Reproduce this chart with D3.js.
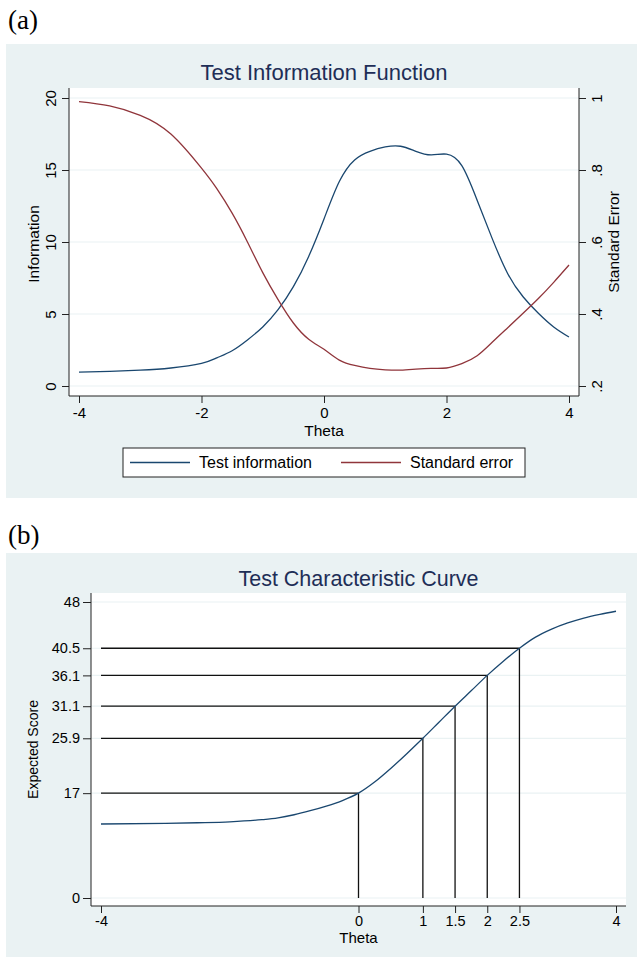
<!DOCTYPE html>
<html>
<head>
<meta charset="utf-8">
<script src="https://cdn.jsdelivr.net/npm/d3@7"></script>
<style>
  body { margin: 0; background: #fff; }
  svg { display: block; font-family: "Liberation Sans", Arial, sans-serif; }
</style>
</head>
<body>
<script>
// ---- data ----
const theta = [-4, -3.5, -3, -2.5, -2, -1.75, -1.5, -1.25, -1, -0.75, -0.5, -0.25, 0, 0.25, 0.5, 0.75,
               1, 1.25, 1.5, 1.75, 2, 2.25, 2.5, 2.75, 3, 3.25, 3.5, 3.75, 4];
const info  = [0.97, 1.02, 1.1, 1.25, 1.57, 1.95, 2.45, 3.2, 4.1, 5.3, 6.9, 9.0, 11.6, 14.2, 15.7, 16.3,
               16.6, 16.65, 16.3, 16.05, 16.1, 15.3, 12.9, 10.2, 7.8, 6.2, 5.05, 4.1, 3.4];
const stdErr = [0.99, 0.978, 0.952, 0.9, 0.805, 0.748, 0.68, 0.6, 0.515, 0.44, 0.375, 0.33, 0.302, 0.272, 0.257, 0.249,
                0.245, 0.244, 0.247, 0.249, 0.25, 0.262, 0.284, 0.322, 0.362, 0.402, 0.443, 0.488, 0.536];

const tccTheta = [-4, -3, -2.5, -2, -1.5, -1.25, -1, -0.75, -0.5, -0.25, 0, 0.25, 0.5, 0.75, 1,
                  1.25, 1.5, 1.75, 2, 2.25, 2.5, 2.75, 3, 3.25, 3.5, 3.75, 4];
const tccScore = [12.0, 12.1, 12.2, 12.35, 12.7, 13.0, 13.5, 14.15, 14.9, 15.8, 17.0, 18.8, 21.0, 23.4, 25.9,
                  28.5, 31.1, 33.6, 36.1, 38.4, 40.5, 42.3, 43.6, 44.6, 45.4, 46.0, 46.5];

const refTheta = [0, 1, 1.5, 2, 2.5];
const refScore = [17, 25.9, 31.1, 36.1, 40.5];

const infoTicks = [0, 5, 10, 15, 20];
const seTicks = [0.2, 0.4, 0.6, 0.8, 1];
const thetaTicksA = [-4, -2, 0, 2, 4];
const thetaTicksB = [-4, 0, 1, 1.5, 2, 2.5, 4];
const scoreTicks = [0, 17, 25.9, 31.1, 36.1, 40.5, 48];

const W = 637, H = 957;
const BG = "#eaf2f3", NAVY = "#1a476f", MAROON = "#90353b", TITLE = "#1e2e57";
const SANS = "'Liberation Sans', Arial, sans-serif";
const SERIF = "'Liberation Serif', 'Times New Roman', serif";

const svg = d3.select("body").append("svg").attr("width", W).attr("height", H);

// ---------- panel (a) ----------
svg.append("text").attr("x", 8).attr("y", 29)
  .style("font-family", SERIF).style("font-size", "27px").text("(a)");

svg.append("rect").attr("x", 6).attr("y", 44).attr("width", W - 6).attr("height", 454).attr("fill", BG);

const A = { l: 69, r: 579, t: 88, b: 396 };
svg.append("rect").attr("x", A.l).attr("y", A.t).attr("width", A.r - A.l).attr("height", A.b - A.t).attr("fill", "#fff");

const xA = d3.scaleLinear().domain([-4, 4]).range([79, 569]);
const yInfo = d3.scaleLinear().domain([0, 20]).range([386, 98]);
const ySE = d3.scaleLinear().domain([0.2, 1]).range([386, 98]);

const ga = svg.append("g");
ga.selectAll("line.grid").data(infoTicks).join("line")
  .attr("x1", A.l).attr("x2", A.r).attr("y1", d => yInfo(d)).attr("y2", d => yInfo(d))
  .attr("stroke", BG).attr("stroke-width", 1.2);

ga.append("text").attr("x", (A.l + A.r) / 2).attr("y", 80).attr("text-anchor", "middle")
  .attr("fill", TITLE).style("font-size", "22px").text("Test Information Function");

const lineInfo = d3.line().x((d, i) => xA(theta[i])).y(d => yInfo(d)).curve(d3.curveNatural);
const lineSE = d3.line().x((d, i) => xA(theta[i])).y(d => ySE(d)).curve(d3.curveNatural);
ga.append("path").attr("d", lineInfo(info)).attr("fill", "none").attr("stroke", NAVY).attr("stroke-width", 1.3);
ga.append("path").attr("d", lineSE(stdErr)).attr("fill", "none").attr("stroke", MAROON).attr("stroke-width", 1.3);

const plain = d => String(d);

// axes
const axBot = ga.append("g").attr("transform", `translate(0,${A.b})`)
  .call(d3.axisBottom(xA).tickValues(thetaTicksA).tickFormat(plain).tickSize(7).tickPadding(4));
axBot.select(".domain").attr("d", `M${A.l},0H${A.r}`);
const axL = ga.append("g").attr("transform", `translate(${A.l},0)`)
  .call(d3.axisLeft(yInfo).tickValues(infoTicks).tickSize(7).tickPadding(3));
axL.select(".domain").attr("d", `M0,${A.t}V${A.b}`);
axL.selectAll(".tick text").attr("text-anchor", "middle").attr("dy", 0)
  .attr("transform", "translate(-18,0) rotate(-90)").attr("x", 0).attr("y", 5);
const axR = ga.append("g").attr("transform", `translate(${A.r},0)`)
  .call(d3.axisRight(ySE).tickValues(seTicks).tickSize(7).tickFormat(d => d === 1 ? "1" : d3.format(".1f")(d).replace(/^0/, "")));
axR.select(".domain").attr("d", `M0,${A.t}V${A.b}`);
axR.selectAll(".tick text").attr("text-anchor", "middle").attr("dy", 0)
  .attr("transform", "translate(18,0) rotate(-90)").attr("x", 0).attr("y", 5);
[axBot, axL, axR].forEach(a => {
  a.selectAll("text").attr("fill", "#000").style("font-size", "15px").style("font-family", SANS);
  a.selectAll("line, path").attr("stroke", "#222");
});

ga.append("text").attr("x", xA(0)).attr("y", 436).attr("text-anchor", "middle").style("font-size", "15.5px").text("Theta");
ga.append("text").attr("transform", `translate(39,${(A.t + A.b) / 2 + 2}) rotate(-90)`).attr("text-anchor", "middle")
  .style("font-size", "15.5px").text("Information");
ga.append("text").attr("transform", `translate(619,${(A.t + A.b) / 2}) rotate(-90)`).attr("text-anchor", "middle")
  .style("font-size", "15.5px").text("Standard Error");

// legend
const leg = ga.append("g");
leg.append("rect").attr("x", 123).attr("y", 448).attr("width", 402).attr("height", 29)
  .attr("fill", "#fff").attr("stroke", "#222").attr("stroke-width", 1);
const legItems = [
  { label: "Test information", color: NAVY, x: 130 },
  { label: "Standard error", color: MAROON, x: 341 }
];
legItems.forEach(it => {
  leg.append("line").attr("x1", it.x).attr("x2", it.x + 60).attr("y1", 462.5).attr("y2", 462.5)
    .attr("stroke", it.color).attr("stroke-width", 1.3);
  leg.append("text").attr("x", it.x + 69).attr("y", 468).style("font-size", "16px").text(it.label);
});

// ---------- panel (b) ----------
svg.append("text").attr("x", 8).attr("y", 544)
  .style("font-family", SERIF).style("font-size", "27px").text("(b)");

svg.append("rect").attr("x", 6).attr("y", 553).attr("width", W - 6).attr("height", H - 553).attr("fill", BG);

const B = { l: 91, r: 626, t: 593, b: 906 };
svg.append("rect").attr("x", B.l).attr("y", B.t).attr("width", B.r - B.l).attr("height", B.b - B.t).attr("fill", "#fff");

const xB = d3.scaleLinear().domain([-4, 4]).range([101, 616]);
const yB = d3.scaleLinear().domain([0, 48]).range([898, 602]);

const gb = svg.append("g");
gb.selectAll("line.grid").data(scoreTicks).join("line")
  .attr("x1", B.l).attr("x2", B.r).attr("y1", d => yB(d)).attr("y2", d => yB(d))
  .attr("stroke", BG).attr("stroke-width", 1.2);

gb.append("text").attr("x", (B.l + B.r) / 2).attr("y", 586).attr("text-anchor", "middle")
  .attr("fill", TITLE).style("font-size", "21.5px").text("Test Characteristic Curve");

// reference lines
refTheta.forEach((t, i) => {
  gb.append("line").attr("x1", xB(-4)).attr("x2", xB(t)).attr("y1", yB(refScore[i])).attr("y2", yB(refScore[i]))
    .attr("stroke", "#111").attr("stroke-width", 1.3);
  gb.append("line").attr("x1", xB(t)).attr("x2", xB(t)).attr("y1", yB(0)).attr("y2", yB(refScore[i]))
    .attr("stroke", "#111").attr("stroke-width", 1.3);
});

const lineTcc = d3.line().x((d, i) => xB(tccTheta[i])).y(d => yB(d)).curve(d3.curveMonotoneX);
gb.append("path").attr("d", lineTcc(tccScore)).attr("fill", "none").attr("stroke", NAVY).attr("stroke-width", 1.3);

const bxAx = gb.append("g").attr("transform", `translate(0,${B.b})`)
  .call(d3.axisBottom(xB).tickValues(thetaTicksB).tickFormat(plain).tickSize(7).tickPadding(3));
bxAx.select(".domain").attr("d", `M${B.l},0H${B.r}`);
const byAx = gb.append("g").attr("transform", `translate(${B.l},0)`)
  .call(d3.axisLeft(yB).tickValues(scoreTicks).tickFormat(plain).tickSize(8).tickPadding(3));
byAx.select(".domain").attr("d", `M0,${B.t}V${B.b}`);
[bxAx, byAx].forEach(a => {
  a.selectAll("text").attr("fill", "#000").style("font-size", "14.5px").style("font-family", SANS);
  a.selectAll("line, path").attr("stroke", "#222");
});

gb.append("text").attr("x", xB(0)).attr("y", 943).attr("text-anchor", "middle").style("font-size", "15px").text("Theta");
gb.append("text").attr("transform", `translate(38,${(B.t + B.b) / 2}) rotate(-90)`).attr("text-anchor", "middle")
  .style("font-size", "14px").text("Expected Score");
</script>
</body>
</html>
